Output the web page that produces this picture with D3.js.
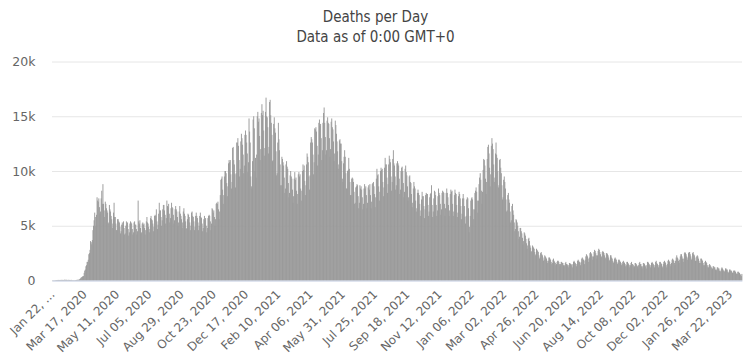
<!DOCTYPE html>
<html>
<head>
<meta charset="utf-8">
<script src="https://cdn.jsdelivr.net/npm/d3@7"></script>
<style>
    body { margin: 0; background: #fff; }
    .title { font-family: "DejaVu Sans Condensed", "DejaVu Sans", sans-serif; font-stretch: condensed; font-size: 15px; fill: #444; }
    .axis text { font-family: "DejaVu Sans", Verdana, sans-serif; fill: #666; }
</style>
</head>
<body>
<div id="chart"></div>
<script>

// Deaths per day, in thousands. One row per week (Mon..Sun), first row starts Wed Jan 22, 2020
var deaths2020 = [
    0.02,0.01,0.02,0.02,0.02,
    0.03,0.03,0.04,0.04,0.05,0.05,0.05,
    0.04,0.05,0.05,0.05,0.06,0.05,0.05,
    0.05,0.05,0.08,0.05,0.06,0.06,0.05,
    0.05,0.06,0.05,0.05,0.05,0.04,0.06,
    0.04,0.03,0.03,0.03,0.03,0.03,0.04,
    0.04,0.05,0.06,0.06,0.07,0.07,0.1,
    0.15,0.2,0.28,0.3,0.35,0.4,0.4,
    0.7,0.9,1.0,1.3,1.4,1.7,1.7,
    1.9,2.4,2.5,2.8,3.6,3.5,3.3,
    3.7,4.6,5.0,5.5,6.2,5.8,5.0,
    6.0,7.6,7.3,7.2,7.5,6.7,6.1,
    6.3,7.5,8.2,7.0,8.8,7.0,6.4,
    5.8,7.2,7.0,6.6,6.4,6.2,5.2,
    5.3,6.9,6.5,6.3,5.9,5.6,4.8,
    5.2,6.2,7.1,5.8,5.8,5.2,4.6,
    4.6,5.6,5.6,5.4,5.3,4.9,4.3,
    4.5,5.1,5.3,5.1,5.4,4.8,4.2,
    4.3,5.0,5.4,5.1,5.3,4.7,4.1,
    4.4,5.2,5.4,5.3,5.2,4.7,4.2,
    4.4,5.3,5.4,5.1,5.1,4.7,4.2,
    4.5,7.3,5.4,5.2,5.5,4.8,4.3,
    4.4,5.2,5.3,5.1,5.2,4.8,4.2,
    4.6,5.4,5.8,5.3,5.2,4.9,4.4,
    4.7,5.7,5.9,5.6,5.5,5.2,4.5,
    4.9,5.9,6.0,5.9,6.5,5.4,4.7,
    5.1,6.1,7.1,6.4,6.4,5.8,5.0,
    5.5,6.5,6.9,6.9,6.4,6.0,5.2,
    5.7,7.3,6.8,6.7,7.0,6.1,5.3,
    5.7,6.6,7.1,6.7,6.6,6.0,5.2,
    5.5,6.5,6.8,6.5,6.3,5.8,5.0,
    5.3,6.3,6.8,6.1,5.9,5.6,4.8,
    5.3,6.3,6.6,6.1,5.9,5.4,4.7,
    4.8,5.6,6.1,6.0,5.8,5.3,4.6,
    5.0,6.2,6.3,5.9,5.8,5.4,4.6,
    4.9,5.9,6.2,5.9,5.7,5.3,4.6,
    5.0,5.9,6.2,5.8,5.7,5.2,4.5,
    4.8,5.6,5.9,5.5,5.7,5.0,4.4,
    4.8,5.7,5.9,6.0,5.9,5.4,4.6,
    5.2,6.6,6.5,6.2,6.4,5.8,5.0,
    5.6,7.0,7.1,7.0,7.2,6.5,5.6,
    6.3,7.8,9.2,9.3,9.5,8.3,7.0,
    7.8,9.5,10.0,10.0,9.8,8.9,7.7,
    8.6,10.7,11.0,10.8,11.0,9.7,8.4,
    9.0,12.1,12.2,11.0,10.6,9.7,8.5,
    9.8,12.6,12.6,13.0,12.3,11.0,9.5,
    10.2,12.7,13.4,13.0,12.4,11.5,9.8,
    10.5,13.3,13.7,13.3,12.6,11.6,9.9,
    10.8,14.8,13.6,12.6,9.5,8.6,8.4,
    10.9,14.7,15.0,13.9
];

var deaths2021 = [
    10.0,11.2,9.4,
    11.5,15.0,15.4,14.5,14.8,13.2,11.0,
    12.0,15.3,16.1,15.1,15.5,13.7,11.4,
    12.1,15.4,16.7,15.0,14.9,14.0,11.6,
    12.2,16.3,16.5,15.1,14.4,13.3,10.9,
    11.0,14.3,14.9,13.9,13.5,11.8,9.6,
    9.8,12.6,14.4,12.9,11.9,10.6,8.7,
    8.7,11.3,11.1,10.8,10.5,9.4,8.0,
    8.4,10.6,10.9,10.4,10.2,8.9,7.6,
    8.0,9.6,10.0,9.5,9.3,8.3,7.1,
    7.7,9.3,9.9,9.2,9.4,8.2,7.0,
    7.9,9.7,9.9,9.5,9.7,8.4,7.3,
    8.2,10.0,10.6,10.1,10.5,9.1,7.8,
    8.7,10.6,11.6,11.3,10.8,9.5,8.3,
    9.6,12.6,13.1,12.9,12.6,11.5,9.7,
    10.8,13.9,13.8,14.0,13.6,12.3,10.5,
    11.5,14.4,14.7,14.1,14.3,13.0,11.0,
    11.9,14.4,15.3,15.8,14.4,13.1,11.5,
    11.9,14.6,14.9,14.4,14.3,13.0,11.3,
    12.0,14.5,14.8,14.0,13.8,12.7,10.9,
    11.6,14.6,14.2,13.4,12.7,11.8,10.2,
    10.6,12.8,12.9,12.5,12.5,10.9,9.3,
    9.0,10.7,11.3,11.9,11.3,9.8,8.4,
    8.4,10.0,10.1,11.2,10.2,9.0,7.8,
    7.8,9.3,9.4,9.3,9.0,8.1,7.0,
    7.1,8.5,8.6,8.8,8.7,7.7,6.6,
    7.1,8.7,8.4,8.6,8.3,7.6,6.5,
    7.0,8.4,8.8,8.4,8.6,7.8,6.6,
    7.1,8.5,8.7,8.3,8.8,7.8,6.6,
    7.2,8.8,8.9,9.0,8.6,7.9,6.7,
    7.6,9.3,10.2,9.6,9.7,8.6,7.3,
    8.1,10.0,10.3,10.1,10.2,9.0,7.7,
    8.5,10.3,11.2,10.6,10.6,9.4,8.0,
    8.8,10.6,11.4,11.1,10.8,9.5,8.2,
    9.0,11.1,11.9,10.7,10.5,9.5,8.3,
    8.7,10.7,10.9,10.7,10.5,9.3,7.9,
    8.3,10.0,10.3,10.4,10.0,8.9,7.6,
    8.1,10.2,10.5,9.9,9.6,8.6,7.3,
    7.6,9.5,9.6,9.0,8.9,7.9,6.7,
    7.1,8.4,9.0,8.6,8.4,7.3,6.3,
    6.6,8.0,8.3,8.0,7.8,7.0,5.9,
    6.4,7.4,8.1,7.7,7.7,6.8,5.7,
    6.5,7.8,8.0,7.9,7.9,6.9,5.9,
    6.3,7.6,7.9,8.0,8.7,6.9,5.8,
    6.3,7.5,8.2,8.1,7.8,6.9,5.9,
    6.4,7.7,8.4,8.0,7.8,7.0,6.0,
    6.5,8.0,8.2,8.1,8.0,7.0,5.9,
    6.6,8.0,8.4,8.0,7.6,6.9,5.9,
    6.4,7.9,8.3,8.1,8.2,7.0,5.9,
    6.3,7.8,8.3,8.0,7.9,6.9,5.8,
    6.2,7.7,8.1,7.9,7.5,6.8,5.6,
    6.1,7.5,7.9,7.5,6.8,5.8,5.2,
    5.9,7.4,7.6,7.5,6.6
];

var deaths2022 = [
    4.4,4.9,
    5.9,7.3,7.5,7.6,7.4,6.5,5.6,
    6.5,8.0,8.2,8.5,8.1,7.3,6.2,
    7.3,8.8,9.4,9.8,9.2,8.2,7.0,
    8.1,10.1,11.1,11.0,10.5,9.3,7.9,
    9.0,11.1,12.2,12.4,11.6,10.3,8.6,
    9.7,12.3,13.0,12.5,12.0,10.6,9.0,
    9.4,11.6,12.6,11.5,11.2,10.0,8.5,
    8.7,11.0,11.1,10.3,9.8,8.7,7.4,
    7.6,9.2,9.5,9.0,8.4,7.4,6.3,
    6.4,7.8,8.0,7.4,7.1,6.3,5.3,
    5.5,6.8,7.0,6.4,6.0,5.3,4.5,
    4.7,5.6,5.5,5.3,5.0,4.5,3.8,
    4.0,4.8,4.8,4.5,4.3,3.9,3.3,
    3.6,4.4,4.3,4.1,3.8,3.4,2.9,
    3.2,3.8,3.9,3.6,3.2,3.0,2.6,
    2.7,3.2,3.1,3.0,2.9,2.6,2.3,
    2.4,2.9,2.8,2.7,2.6,2.3,2.0,
    2.1,2.5,2.6,2.4,2.3,2.1,1.8,
    1.9,2.3,2.2,2.1,2.0,1.8,1.6,
    1.8,2.1,2.1,2.0,1.9,1.7,1.5,
    1.6,1.9,2.0,1.8,1.7,1.6,1.4,
    1.5,1.7,1.8,1.8,1.7,1.5,1.3,
    1.5,1.7,1.7,1.6,1.6,1.4,1.3,
    1.4,1.6,1.7,1.5,1.5,1.4,1.2,
    1.4,1.6,1.6,1.5,1.5,1.4,1.2,
    1.5,1.7,1.8,1.7,1.6,1.5,1.3,
    1.5,1.8,1.9,1.8,1.7,1.6,1.4,
    1.7,2.0,2.1,2.0,1.9,1.8,1.5,
    1.9,2.2,2.4,2.3,2.2,2.0,1.7,
    2.1,2.5,2.6,2.5,2.4,2.2,1.9,
    2.2,2.6,2.8,2.7,2.5,2.3,2.0,
    2.3,2.7,2.9,2.8,2.6,2.4,2.1,
    2.2,2.6,2.7,2.6,2.5,2.3,2.0,
    2.1,2.5,2.5,2.4,2.3,2.1,1.8,
    1.9,2.3,2.3,2.1,2.0,1.8,1.6,
    1.7,2.0,2.1,2.0,1.9,1.7,1.5,
    1.6,1.9,1.9,1.8,1.7,1.6,1.4,
    1.5,1.7,1.8,1.7,1.6,1.5,1.3,
    1.4,1.7,1.7,1.6,1.5,1.4,1.2,
    1.4,1.6,1.7,1.5,1.5,1.4,1.2,
    1.3,1.6,1.6,1.5,1.4,1.3,1.1,
    1.4,1.6,1.7,1.5,1.5,1.3,1.1,
    1.3,1.6,1.6,1.5,1.4,1.3,1.1,
    1.4,1.7,1.7,1.6,1.5,1.4,1.2,
    1.4,1.6,1.7,1.6,1.5,1.4,1.2,
    1.4,1.7,1.8,1.6,1.5,1.4,1.2,
    1.4,1.7,1.7,1.6,1.5,1.3,1.2,
    1.5,1.7,1.8,1.7,1.6,1.4,1.2,
    1.5,1.8,1.9,1.8,1.7,1.5,1.3,
    1.6,1.9,2.0,1.9,1.8,1.6,1.4,
    1.8,2.1,2.3,2.1,2.0,1.8,1.6,
    1.9,2.2,2.4,2.4,2.2,2.0
];

var deaths2023 = [
    1.7,
    2.0,2.5,2.6,2.5,2.4,2.2,1.9,
    2.1,2.5,2.6,2.6,2.4,2.2,1.9,
    2.0,2.5,2.6,2.4,2.3,2.1,1.8,
    1.8,2.2,2.3,2.2,2.0,1.8,1.6,
    1.6,2.0,2.0,1.9,1.8,1.6,1.4,
    1.4,1.7,1.8,1.7,1.6,1.4,1.2,
    1.2,1.4,1.5,1.4,1.3,1.2,1.0,
    1.1,1.3,1.3,1.2,1.2,1.0,0.9,
    1.0,1.2,1.2,1.1,1.1,0.9,0.8,
    0.9,1.1,1.2,1.1,1.0,0.9,0.8,
    0.9,1.1,1.1,1.0,1.0,0.8,0.7,
    0.8,1.0,1.0,0.9,0.9,0.8,0.7,
    0.7,0.9,0.9,0.9,0.8,0.7,0.6,
    0.6,0.8,0.8,0.7,0.7,0.6,0.5,
    0.4,0.6
];

// one label every 55 days
var tickLabels = ["Jan 22, \u2026", "Mar 17, 2020", "May 11, 2020", "Jul 05, 2020", "Aug 29, 2020",
    "Oct 23, 2020", "Dec 17, 2020", "Feb 10, 2021", "Apr 06, 2021", "May 31, 2021", "Jul 25, 2021",
    "Sep 18, 2021", "Nov 12, 2021", "Jan 06, 2022", "Mar 02, 2022", "Apr 26, 2022", "Jun 20, 2022",
    "Aug 14, 2022", "Oct 08, 2022", "Dec 02, 2022", "Jan 26, 2023", "Mar 22, 2023"];
var tickStep = 55;
var yTicks = [0, 5, 10, 15, 20];

var values = deaths2020.concat(deaths2021, deaths2022, deaths2023);
var startDay = new Date(2020, 0, 22);
var days = values.map(function(v, i) { return d3.timeDay.offset(startDay, i); });

var margin = { top: 61.5, right: 9, bottom: 83.5, left: 52 };
var width = 751 - margin.left - margin.right,
    height = 364 - margin.top - margin.bottom;

var root = d3.select("#chart").append("svg")
    .attr("width", 751)
    .attr("height", 364);

root.append("text").attr("class", "title")
    .attr("x", 375.5).attr("y", 22)
    .attr("text-anchor", "middle")
    .text("Deaths per Day");
root.append("text").attr("class", "title")
    .attr("x", 375.5).attr("y", 42)
    .attr("text-anchor", "middle")
    .text("Data as of 0:00 GMT+0");

var svg = root.append("g")
    .attr("transform", "translate(" + margin.left + "," + margin.top + ")");

var x = d3.scaleBand()
    .domain(d3.range(values.length))
    .range([0, width])
    .padding(0);

var y = d3.scaleLinear()
    .domain([0, 20])
    .range([height, 0]);

// grid + y labels
var yAxis = svg.append("g").attr("class", "axis")
    .call(d3.axisLeft(y)
        .tickValues(yTicks)
        .tickSize(-width)
        .tickPadding(16.5)
        .tickFormat(function(d) { return d === 0 ? "0" : d + "k"; }));
yAxis.select(".domain").remove();
yAxis.selectAll("line").attr("stroke", "#e6e6e6");
yAxis.selectAll("text").style("font-size", "12.5px");

// bars
svg.append("g")
    .selectAll("rect")
    .data(values)
    .enter().append("rect")
    .attr("x", function(d, i) { return x(i); })
    .attr("y", function(d) { return y(d); })
    .attr("width", x.bandwidth() + 0.35)
    .attr("height", function(d) { return height - y(d); })
    .attr("fill", "#999");

// x axis
var xAxis = svg.append("g").attr("class", "axis")
    .attr("transform", "translate(0," + height + ")")
    .call(d3.axisBottom(x)
        .tickValues(tickLabels.map(function(t, k) { return k * tickStep; }))
        .tickSize(0)
        .tickFormat(function(d, k) { return tickLabels[k]; }));
xAxis.select(".domain").attr("stroke", "#ccd6eb");
xAxis.selectAll("text")
    .attr("y", null)
    .attr("dy", null)
    .attr("text-anchor", "end")
    .attr("transform", "translate(3,14.5) rotate(-45)")
    .style("font-size", "12px");

</script>
</body>
</html>
